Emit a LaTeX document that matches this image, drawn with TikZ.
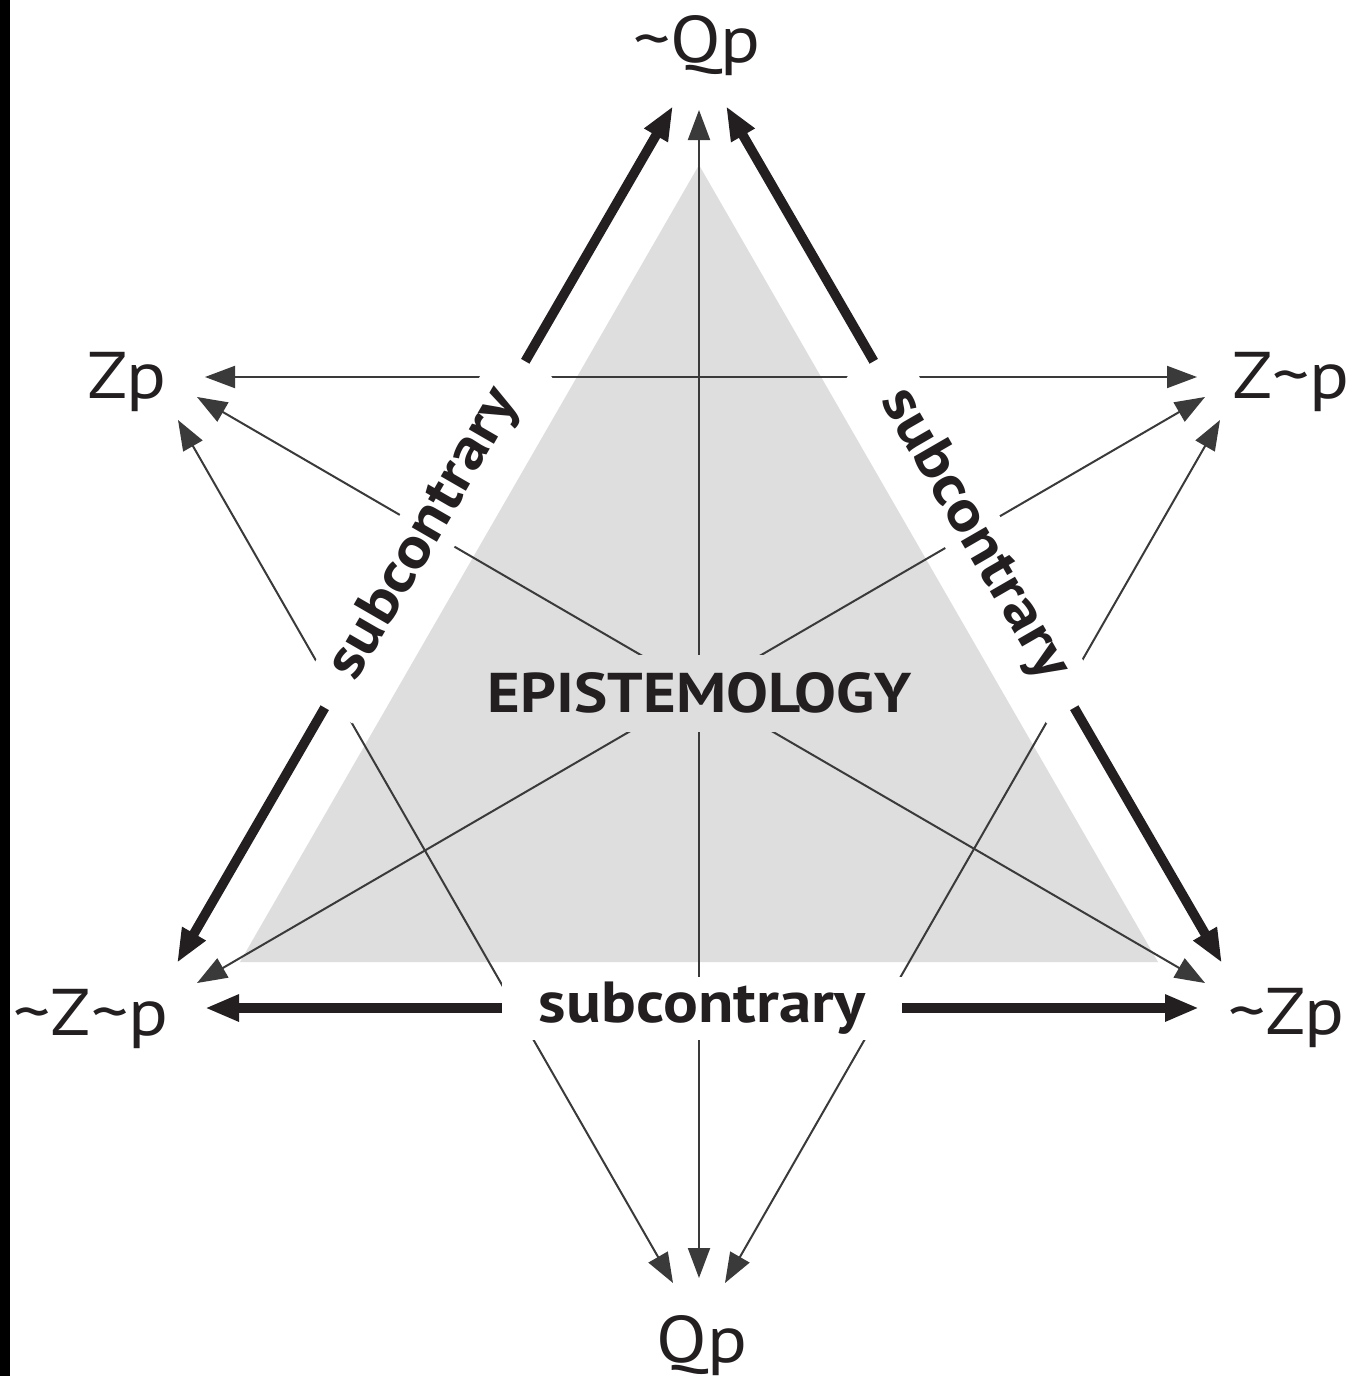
\documentclass[tikz,border=0pt]{standalone}
\usepackage{fontspec}
\setmainfont{PT Sans}[FakeStretch=1.12]
\usetikzlibrary{arrows.meta,calc}
\definecolor{ink}{HTML}{231F20}
\definecolor{thinink}{HTML}{3A3A3A}
\definecolor{trigray}{RGB}{222,222,222}
\tikzset{
  lbl/.style={font=\fontsize{33}{40}\selectfont, text=ink, inner sep=0pt, anchor=base},
  sublabel/.style={font=\bfseries\fontsize{29}{35}\selectfont, text=ink, fill=white,
    minimum width=200pt, minimum height=31.5pt, inner sep=0pt},
  centerlabel/.style={font=\bfseries\fontsize{28}{34}\selectfont, text=ink, fill=trigray,
    minimum height=38.5pt, inner xsep=5pt, inner ysep=0pt},
  thinarrow/.style={draw=thinink, line width=1pt,
    {Triangle[length=15pt,width=11pt]}-{Triangle[length=15pt,width=11pt]}},
  thickarrow/.style={draw=ink, line width=4.8pt,
    {Triangle[length=17pt,width=12.5pt]}-{Triangle[length=17pt,width=12.5pt]}},
}
\newcommand{\tl}{\char"007E}
\begin{document}
\begin{tikzpicture}[x=0.5pt,y=-0.5pt]
  \fill[white] (0,0) rectangle (1356,1376);
  \useasboundingbox (0,0) rectangle (1356,1376);
  \fill[black] (0,0) rectangle (10,1376);

  % gray triangle
  \fill[trigray] (699,165) -- (1158,962) -- (240,962) -- cycle;

  % text nodes
  \node[lbl] (nQ)  at (697,62)   {\tl Qp};
  \node[lbl] (pZ)  at (127,398)  {Zp};
  \node[lbl] (pZn) at (1291,398) {Z\tl p};
  \node[lbl] (nZn) at (91,1035)  {\tl Z\tl p};
  \node[lbl] (nZ)  at (1286,1034) {\tl Zp};
  \node[lbl] (pQ)  at (702,1362) {Qp};

  % arrow end points
  \coordinate (aQl) at (673,106);
  \coordinate (aQc) at (699,110);
  \coordinate (aQr) at (726,106);
  \coordinate (aZl1) at (205,377);
  \coordinate (aZl2) at (197,397);
  \coordinate (aZl3) at (178,420);
  \coordinate (aZr1) at (1197,377);
  \coordinate (aZr2) at (1205,397);
  \coordinate (aZr3) at (1220,420);
  \coordinate (aNl1) at (177,963);
  \coordinate (aNl2) at (197,983);
  \coordinate (aNl3) at (205,1008);
  \coordinate (aNr1) at (1222,963);
  \coordinate (aNr2) at (1205,983);
  \coordinate (aNr3) at (1199,1008);
  \coordinate (aBl) at (673,1283);
  \coordinate (aBc) at (699,1278);
  \coordinate (aBr) at (725,1283);

  % thin connectors
  \draw[thinarrow] (aQc) -- (aBc);
  \draw[thinarrow] (aZl1) -- (aZr1);
  \draw[thinarrow] (aZl2) -- (aNr2);
  \draw[thinarrow] (aZr2) -- (aNl2);
  \draw[thinarrow] (aZl3) -- (aBl);
  \draw[thinarrow] (aZr3) -- (aBr);

  % thick connectors
  \draw[thickarrow] (aNl1) -- (aQl);
  \draw[thickarrow] (aQr) -- (aNr1);
  \draw[thickarrow] (aNl3) -- (aNr3);

  % labels
  \node[sublabel, rotate=60]  (sL) at ($(aNl1)!0.5!(aQl)$) {subcontrary};
  \node[sublabel, rotate=-60] (sR) at ($(aQr)!0.5!(aNr1)$) {subcontrary};
  \node[sublabel] (sB) at ($(aNl3)!0.5!(aNr3)$) {subcontrary};
  \node[centerlabel] (epi) at (700,693) {EPISTEMOLOGY};
\end{tikzpicture}
\end{document}
